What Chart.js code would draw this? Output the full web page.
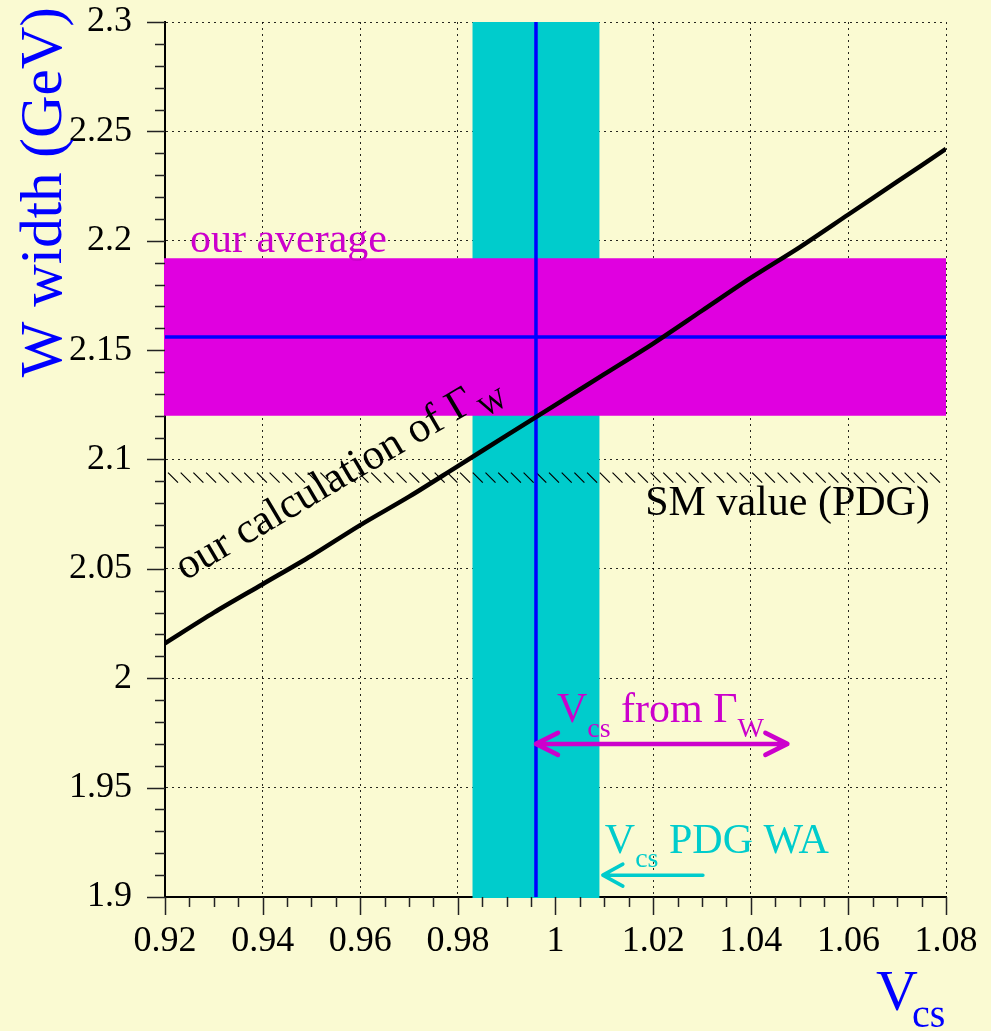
<!DOCTYPE html>
<html><head><meta charset="utf-8">
<script src="https://cdn.jsdelivr.net/npm/chart.js@4"></script>
<style>html,body{margin:0;padding:0;background:#fafad2;} #wrap{width:991px;height:1031px;position:relative;}</style>
</head><body><div id="wrap"><canvas id="c" width="991" height="1031"></canvas></div>
<script>
// ---- data ----
const vcsGrid   = [0.92,0.93,0.94,0.95,0.96,0.97,0.98,0.99,1.00,1.01,1.02,1.03,1.04,1.05,1.06,1.07,1.08];
const widthCalc = [2.016,2.030,2.043,2.056,2.070,2.083,2.097,2.111,2.125,2.139,2.153,2.168,2.183,2.197,2.212,2.227,2.242];
const vcsPDG = 0.996, vcsPDGErr = 0.013;
const widthAvg = 2.156, widthAvgErr = 0.036;
const widthSM = 2.094;
const xTickValues = [0.92,0.94,0.96,0.98,1.00,1.02,1.04,1.06,1.08];
const xTickLabels = ['0.92','0.94','0.96','0.98','1','1.02','1.04','1.06','1.08'];
const yTickValues = [1.9,1.95,2.0,2.05,2.1,2.15,2.2,2.25,2.3];
const yTickLabels = ['1.9','1.95','2','2.05','2.1','2.15','2.2','2.25','2.3'];
const xMinorStep = 0.005, yMinorStep = 0.01;
const arrowFromGamma = {y:1.970, x1:0.996, x2:1.0475};
const arrowPDG = {y:1.910, x1:1.0302, x2:1.0097};

const SERIF = '"Liberation Serif","Times New Roman",serif';
const BG = '#fafad2', CYAN = '#00cccc', MAG = '#e000e0', MAGTXT = '#cc00cc', BLUE = '#0000ff';

function rich(ctx, x0, y0, parts, color){
  let x = x0;
  ctx.fillStyle = color;
  ctx.textAlign = 'left'; ctx.textBaseline = 'alphabetic';
  for (const p of parts){
    ctx.font = p.size + 'px ' + SERIF;
    ctx.fillText(p.t, x, y0 + (p.dy||0));
    x += ctx.measureText(p.t).width + (p.gap||0);
  }
}
function arrowHead(ctx, tx, ty, dir, len, half){
  ctx.moveTo(tx + dir*len, ty - half); ctx.lineTo(tx, ty); ctx.lineTo(tx + dir*len, ty + half);
}
function noPad(s){ s.paddingTop = 0; s.paddingBottom = 0; s.paddingLeft = 0; s.paddingRight = 0; }

const deco = {
  id:'deco',
  beforeDraw(chart){
    const c = chart.ctx; c.save(); c.fillStyle = BG; c.fillRect(0,0,chart.width,chart.height); c.restore();
  },
  beforeDatasetsDraw(chart){
    const {ctx, chartArea:a, scales:{x,y}} = chart;
    ctx.save();
    const cx1 = x.getPixelForValue(vcsPDG - vcsPDGErr), cx2 = x.getPixelForValue(vcsPDG + vcsPDGErr);
    ctx.fillStyle = CYAN; ctx.fillRect(cx1, a.top, cx2-cx1, a.bottom-a.top + 1);
    const my1 = y.getPixelForValue(widthAvg + widthAvgErr), my2 = y.getPixelForValue(widthAvg - widthAvgErr);
    ctx.fillStyle = MAG; ctx.fillRect(a.left - 1, my1, a.right - a.left + 1, my2 - my1);
    // hatched SM line
    const hy = y.getPixelForValue(widthSM);
    ctx.strokeStyle = '#000'; ctx.lineWidth = 1.2;
    ctx.beginPath();
    for (let px = a.left + 3; px + 10 <= a.right; px += 12.7){ ctx.moveTo(px, hy); ctx.lineTo(px + 10, hy + 10); }
    ctx.stroke();
    // blue central lines
    ctx.strokeStyle = BLUE; ctx.lineWidth = 3.5;
    const bx = x.getPixelForValue(vcsPDG), by = y.getPixelForValue(widthAvg);
    ctx.beginPath();
    ctx.moveTo(bx, a.top); ctx.lineTo(bx, a.bottom);
    ctx.moveTo(a.left, by); ctx.lineTo(a.right, by);
    ctx.stroke();
    ctx.restore();
  },
  afterDatasetsDraw(chart){
    const {ctx, chartArea:a, scales:{x,y}} = chart;
    ctx.save();
    // ticks
    const nx = Math.round((x.max - x.min)/xMinorStep);
    ctx.lineWidth = 1.5; ctx.strokeStyle = '#222';
    ctx.beginPath();
    for (let i = 0; i <= nx; i++){
      const v = x.min + i*xMinorStep;
      const major = xTickValues.some(t => Math.abs(t - v) < 1e-6);
      const px = Math.round(x.getPixelForValue(v)) + 0.5;
      ctx.moveTo(px, a.bottom); ctx.lineTo(px, a.bottom + (major ? 18 : 10));
    }
    const ny = Math.round((y.max - y.min)/yMinorStep);
    for (let i = 0; i <= ny; i++){
      const v = y.min + i*yMinorStep;
      const major = yTickValues.some(t => Math.abs(t - v) < 1e-6);
      const py = Math.round(y.getPixelForValue(v)) + 0.5;
      ctx.moveTo(a.left, py); ctx.lineTo(a.left - (major ? 18 : 10), py);
    }
    ctx.stroke();

    // annotations
    rich(ctx, x.getPixelForValue(0.9251), y.getPixelForValue(2.1949), [{t:'our average', size:42}], MAGTXT);

    ctx.font = '42px ' + SERIF; ctx.fillStyle = '#000'; ctx.textAlign = 'right';
    ctx.fillText('SM value (PDG)', x.getPixelForValue(1.0767), y.getPixelForValue(2.0746));

    ctx.save();
    ctx.translate(x.getPixelForValue(0.9241), y.getPixelForValue(2.0445));
    ctx.rotate(-30.5 * Math.PI/180);
    rich(ctx, 0, 0, [{t:'our calculation of ', size:43}, {t:'\u0393', size:43, gap:3}, {t:'W', size:29, dy:12}], '#000');
    ctx.restore();

    rich(ctx, x.getPixelForValue(1.0003), y.getPixelForValue(1.980),
      [{t:'V', size:42}, {t:'cs', size:28, dy:15}, {t:' from ', size:42}, {t:'\u0393', size:42}, {t:'W', size:28, dy:15}], MAGTXT);
    rich(ctx, x.getPixelForValue(1.0101), y.getPixelForValue(1.9201),
      [{t:'V', size:42}, {t:'cs', size:28, dy:14}, {t:' PDG WA', size:42}], CYAN);

    // arrows
    ctx.lineCap = 'round'; ctx.lineJoin = 'round';
    ctx.strokeStyle = MAGTXT; ctx.lineWidth = 4.5;
    const ay = y.getPixelForValue(arrowFromGamma.y);
    const ax1 = x.getPixelForValue(arrowFromGamma.x1), ax2 = x.getPixelForValue(arrowFromGamma.x2);
    ctx.beginPath();
    ctx.moveTo(ax1, ay); ctx.lineTo(ax2, ay);
    arrowHead(ctx, ax1, ay, 1, 22, 11);
    arrowHead(ctx, ax2, ay, -1, 22, 11);
    ctx.stroke();
    ctx.strokeStyle = CYAN; ctx.lineWidth = 3.5;
    const cy = y.getPixelForValue(arrowPDG.y);
    const c1 = x.getPixelForValue(arrowPDG.x1), c2 = x.getPixelForValue(arrowPDG.x2);
    ctx.beginPath();
    ctx.moveTo(c1, cy); ctx.lineTo(c2, cy);
    arrowHead(ctx, c2, cy, 1, 20, 11);
    ctx.stroke();

    // axis titles
    ctx.save();
    ctx.fillStyle = BLUE; ctx.font = '59px ' + SERIF;
    ctx.translate(61, 7); ctx.rotate(-Math.PI/2);
    ctx.textAlign = 'right'; ctx.textBaseline = 'alphabetic';
    ctx.fillText('W width (GeV)', 0, 0);
    ctx.restore();
    ctx.fillStyle = BLUE; ctx.textAlign = 'left'; ctx.textBaseline = 'alphabetic';
    ctx.font = '58px ' + SERIF; ctx.fillText('V', 876, 1010);
    ctx.font = '40px ' + SERIF; ctx.fillText('cs', 912, 1027);
    ctx.restore();
  }
};

new Chart(document.getElementById('c'), {
  type: 'scatter',
  data: { datasets: [{
    data: vcsGrid.map((v, i) => ({x: v, y: widthCalc[i]})),
    showLine: true, borderColor: '#000', borderWidth: 4.5, pointRadius: 0, tension: 0.3, fill: false
  }]},
  options: {
    responsive: false, animation: false, devicePixelRatio: 1,
    layout: { padding: { top: 22, right: 45, left: 0, bottom: 0 } },
    plugins: { legend: {display:false}, tooltip: {enabled:false} },
    scales: {
      x: {
        type: 'linear', min: 0.92, max: 1.08,
        afterBuildTicks: s => { s.ticks = xTickValues.map(v => ({value: v})); },
        afterFit: s => { s.height = 134; noPad(s); },
        ticks: { autoSkip: false, maxRotation: 0, padding: 23, color: '#000',
          font: { family: SERIF, size: 36 }, callback: (v, i) => xTickLabels[i] },
        grid: { color: 'rgba(0,0,0,0.85)', lineWidth: 1, drawTicks: false },
        border: { display: true, color: '#000', width: 2, dash: [2, 4] }
      },
      y: {
        type: 'linear', min: 1.9, max: 2.3,
        afterBuildTicks: s => { s.ticks = yTickValues.map(v => ({value: v})); },
        afterFit: s => { s.width = 165; noPad(s); },
        ticks: { autoSkip: false, padding: 33, color: '#000',
          font: { family: SERIF, size: 36 }, callback: (v, i) => yTickLabels[i] },
        grid: { color: 'rgba(0,0,0,0.85)', lineWidth: 1, drawTicks: false },
        border: { display: true, color: '#000', width: 2, dash: [2, 4] }
      }
    }
  },
  plugins: [deco]
});
</script>
</body></html>
